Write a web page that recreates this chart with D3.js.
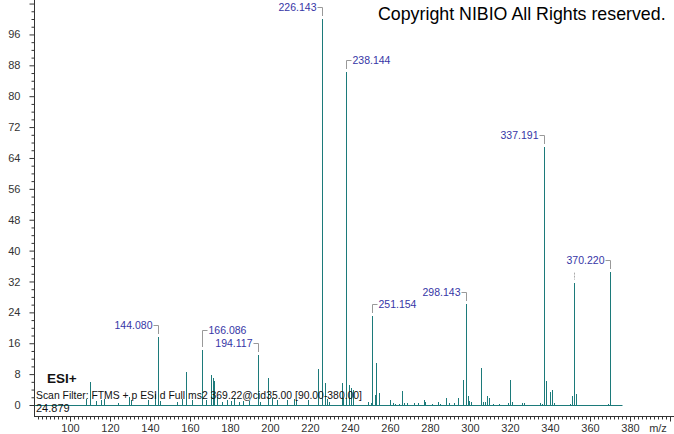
<!DOCTYPE html>
<html>
<head>
<meta charset="utf-8">
<script src="https://cdn.jsdelivr.net/npm/d3@7"></script>
<style>
  body { margin: 0; background: #fff; }
  svg { display: block; font-family: "Liberation Sans", Arial, sans-serif; }
</style>
</head>
<body>
<div id="chart"></div>
<script>
// peak list (m/z, relative abundance %)
const peakMz = [
    108.0, 110.0, 112.8, 115.5, 117.0, 124.0, 129.5, 130.5, 139.2, 142.5,
    144.080, 145.2, 153.3, 155.8, 158.2, 160.8, 166.086, 168.0, 170.3, 171.3,
    172.0, 173.3, 176.0, 178.3, 180.3, 182.2, 184.7, 186.7, 189.7, 194.117,
    195.0, 199.2, 200.8, 203.7, 208.3, 212.2, 213.0, 219.2, 224.2, 226.143,
    227.5, 228.3, 229.7, 235.8, 236.7, 238.144, 239.4, 240.4, 241.4, 249.2,
    250.3, 251.154, 252.3, 253.2, 254.3, 260.2, 261.3, 262.5, 264.7, 266.2,
    267.2, 268.3, 272.2, 273.8, 277.0, 277.5, 280.8, 284.2, 285.0, 288.1,
    289.3, 292.0, 294.2, 296.3, 298.143, 299.1, 299.6, 300.3, 305.3, 306.3,
    307.5, 308.3, 309.3, 311.3, 314.3, 319.2, 320.1, 321.2, 326.2, 327.2,
    335.2, 336.2, 337.191, 338.2, 340.2, 341.2, 342.2, 350.2, 351.2, 352.21,
    353.2, 369.2, 370.220
];
const peakIntensity = [
    1.5, 5.9, 1.0, 1.3, 1.5, 0.4, 2.0, 1.3, 1.3, 2.9,
    17.6, 1.0, 0.8, 1.5, 8.5, 1.3, 14.2, 1.3, 7.9, 6.9,
    6.3, 2.1, 0.9, 1.3, 1.0, 1.7, 0.9, 1.1, 1.1, 12.9,
    0.9, 6.9, 1.7, 1.3, 1.3, 1.5, 1.3, 1.3, 9.4, 100,
    5.8, 1.5, 0.9, 5.6, 1.7, 86.3, 5.3, 4.5, 3.8, 0.9,
    0.4, 23.1, 2.6, 10.8, 3.1, 1.3, 0.4, 0.3, 0.3, 3.6,
    0.4, 0.4, 0.4, 0.5, 1.4, 0.7, 0.3, 0.7, 0.3, 1.9,
    0.5, 0.5, 1.9, 6.6, 26.2, 2.3, 1.1, 0.9, 9.6, 0.9,
    0.7, 2.3, 1.7, 0.3, 0.3, 0.4, 6.4, 0.9, 0.4, 0.4,
    0.4, 0.3, 66.9, 6.2, 3.4, 3.9, 0.4, 0.3, 2.3, 31.7,
    2.8, 0.3, 34.5
];

// annotated peaks and which side their label sits on
const labelMz = [144.080, 166.086, 194.117, 226.143, 238.144, 251.154, 298.143, 337.191, 370.220];
const labelSide = ["left", "right", "left", "left", "right", "right", "left", "left", "left"];
const ghostLeaderMz = [352.21];

const yTickLabels = [0, 8, 16, 24, 32, 40, 48, 56, 64, 72, 80, 88, 96];
const xTickLabels = [100, 120, 140, 160, 180, 200, 220, 240, 260, 280, 300, 320, 340, 360, 380];

const scanFilter = "Scan Filter: FTMS + p ESI d Full ms2 369.22@cid35.00 [90.00-380.00]";
const retentionTime = "24.879";
const ionMode = "ESI+";
const copyright = "Copyright NIBIO All Rights reserved.";

const width = 674, height = 434;
const stickColor = "#1c7a7a";
const axisColor = "#333";

const svg = d3.select("#chart").append("svg")
    .attr("width", width)
    .attr("height", height);

const x = d3.scaleLinear().domain([82, 402]).range([34, 674]);
const y = d3.scaleLinear().domain([0, 100]).range([405, 19]);
const px = v => Math.round(x(v)) + 0.5;
const py = v => Math.round(y(v)) + 0.5;

// y axis: minor tick every 2, label every 8
const yAxis = svg.append("g")
    .attr("transform", "translate(34.5,0)")
    .call(d3.axisLeft(y)
        .tickValues(d3.range(0, 105, 2))
        .tickSize(5)
        .tickPadding(9)
        .tickFormat(d => yTickLabels.includes(d) ? d : ""));
yAxis.select(".domain").remove();
yAxis.selectAll(".tick line")
    .attr("x2", d => d % 8 === 0 ? -5 : -3)
    .attr("stroke", axisColor);
yAxis.selectAll(".tick text")
    .attr("font-size", 11)
    .attr("fill", "#333")
    .attr("font-family", "Liberation Sans, Arial, sans-serif");
svg.append("line")
    .attr("x1", 34.5).attr("x2", 34.5)
    .attr("y1", 0).attr("y2", 417)
    .attr("stroke", axisColor);

// x axis: minor tick every 2 m/z, label every 20
const xAxis = svg.append("g")
    .attr("transform", "translate(0,416.5)")
    .call(d3.axisBottom(x)
        .tickValues(d3.range(84, 402, 2))
        .tickSize(4)
        .tickPadding(4)
        .tickFormat(d => xTickLabels.includes(d) ? d : ""));
xAxis.select(".domain").remove();
xAxis.selectAll(".tick line")
    .attr("y2", d => d % 20 === 0 ? 5 : 3)
    .attr("stroke", axisColor);
xAxis.selectAll(".tick text")
    .attr("font-size", 11)
    .attr("fill", "#333")
    .attr("font-family", "Liberation Sans, Arial, sans-serif");
svg.append("line")
    .attr("x1", 34).attr("x2", 674)
    .attr("y1", 416.5).attr("y2", 416.5)
    .attr("stroke", axisColor);
svg.append("text")
    .attr("x", 658).attr("y", 432)
    .attr("font-size", 11)
    .attr("fill", "#333")
    .attr("text-anchor", "middle")
    .text("m/z");

// spectrum baseline and sticks
svg.append("line")
    .attr("x1", 35).attr("x2", px(376))
    .attr("y1", py(0)).attr("y2", py(0))
    .attr("stroke", stickColor);

const peaks = peakMz.map((m, i) => ({ mz: m, v: peakIntensity[i] }));
svg.append("g").selectAll("line")
    .data(peaks)
    .join("line")
    .attr("x1", d => px(d.mz)).attr("x2", d => px(d.mz))
    .attr("y1", py(0))
    .attr("y2", d => Math.round(y(d.v)))
    .attr("stroke", stickColor)
    .attr("stroke-width", 1);

// small dashed leader left over above the unlabeled 352 peak
ghostLeaderMz.forEach(m => {
    const p = peaks.find(d => d.mz === m);
    svg.append("line")
        .attr("x1", px(m)).attr("x2", px(m))
        .attr("y1", y(p.v) - 10).attr("y2", y(p.v) - 3)
        .attr("stroke", "#aaa")
        .attr("stroke-dasharray", "2,1");
});

// peak labels with brackets; lower peaks are placed first, later ones move up on collision
const labels = labelMz.map((m, i) => ({
    mz: m,
    v: peaks.find(d => d.mz === m).v,
    side: labelSide[i]
})).sort((a, b) => a.v - b.v);

const placed = [];
const labelG = svg.append("g");
labels.forEach(l => {
    const xp = px(l.mz);
    const top = Math.round(y(l.v));
    const t = labelG.append("text")
        .attr("font-size", 10.5)
        .attr("fill", "#3636a6")
        .attr("dy", "0.35em")
        .text(l.mz.toFixed(3));
    const w = t.node().getComputedTextLength();
    const x0 = l.side === "left" ? xp - 6 - w : xp + 6;
    let ty = top - 12;
    const hits = yy => placed.find(b => x0 < b.x1 && x0 + w > b.x0 && yy - 6 < b.y1 && yy + 6 > b.y0);
    let h;
    while ((h = hits(ty))) ty = h.ty - 13;
    placed.push({ x0: x0, x1: x0 + w, y0: ty - 6, y1: ty + 6, ty: ty });

    t.attr("x", l.side === "left" ? xp - 6 : xp + 6)
        .attr("y", ty)
        .attr("text-anchor", l.side === "left" ? "end" : "start");
    const hx = l.side === "left" ? xp - 5 : xp + 5;
    labelG.append("path")
        .attr("d", `M${hx},${Math.round(ty) + 0.5}H${xp}V${top - 3}`)
        .attr("fill", "none")
        .attr("stroke", "#999");
});

// header/footer texts
svg.append("text")
    .attr("x", 378).attr("y", 19.5)
    .attr("font-size", 17.8)
    .attr("fill", "#000")
    .text(copyright);

svg.append("text")
    .attr("x", 47).attr("y", 383)
    .attr("font-size", 13.5)
    .attr("font-weight", "bold")
    .attr("fill", "#111")
    .text(ionMode);

svg.append("text")
    .attr("x", 36).attr("y", 399)
    .attr("font-size", 10.5)
    .attr("textLength", 326)
    .attr("lengthAdjust", "spacingAndGlyphs")
    .attr("fill", "#111")
    .text(scanFilter);

svg.append("text")
    .attr("x", 36).attr("y", 412)
    .attr("font-size", 11)
    .attr("fill", "#111")
    .text(retentionTime);
</script>
</body>
</html>
